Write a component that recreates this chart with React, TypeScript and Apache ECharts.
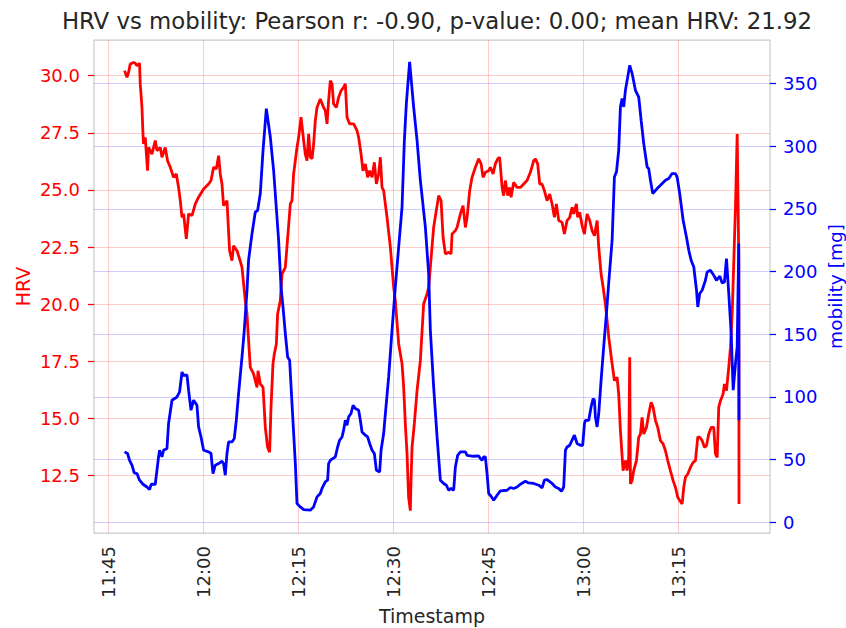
import React, { useEffect, useRef } from "react";
import * as echarts from "echarts";

// Time in minutes since midnight, HRV value
const hrvSeries: [number, number][] = [
  [707.57,30.22],[707.95,29.93],[708.2,30.14],[708.47,30.51],[709.0,30.58],[709.26,30.54],[709.53,30.44],[709.94,30.54],[710.05,29.64],[710.32,28.61],
  [710.48,27.45],[710.57,27.01],[710.84,27.30],[711.2,25.84],[711.36,26.86],[711.9,26.57],[712.42,27.16],[712.69,26.72],[713.21,26.86],[713.48,26.43],
  [714.0,26.86],[714.36,26.28],[714.79,25.99],[715.31,25.55],[715.74,25.70],[716.1,25.11],[716.37,24.53],[716.64,23.80],[716.89,23.95],[717.32,22.86],
  [717.68,23.95],[718.22,23.88],[718.74,24.39],[719.26,24.68],[720.05,25.04],[720.84,25.26],[721.22,25.41],[721.63,25.99],[722.05,25.92],[722.42,26.50],
  [722.68,25.70],[722.95,25.26],[723.2,24.31],[723.74,24.53],[724.15,22.34],[724.53,21.91],[724.78,22.56],[725.32,22.34],[725.73,21.98],[726.11,21.61],
  [726.47,20.59],[726.63,20.16],[726.9,19.57],[727.15,18.41],[727.42,17.24],[727.94,16.95],[728.21,16.66],[728.48,16.36],[728.64,17.09],[729.0,16.51],
  [729.43,16.36],[729.79,14.61],[730.15,13.74],[730.47,13.52],[730.69,15.49],[731.0,17.39],[731.21,17.82],[731.53,18.26],[731.73,19.57],[732.16,20.16],
  [732.42,21.32],[732.95,21.61],[733.74,24.39],[734.0,24.53],[734.26,25.70],[734.79,26.86],[735.05,27.30],[735.43,28.18],[735.84,27.16],[736.1,26.57],
  [736.37,26.28],[736.63,27.45],[736.89,26.43],[737.16,26.36],[737.42,27.01],[737.68,28.03],[737.95,28.61],[738.47,28.98],[738.99,28.61],[739.26,28.47],
  [739.53,27.89],[739.78,28.91],[740.05,29.78],[740.32,29.64],[740.57,28.76],[741.0,28.61],[741.36,29.05],[741.74,29.34],[742.15,29.49],[742.42,29.64],
  [742.69,28.18],[743.1,27.89],[743.73,27.89],[744.27,27.59],[744.52,27.30],[744.9,26.57],[745.21,25.84],[745.58,26.14],[745.94,25.55],[746.26,25.84],
  [746.64,25.55],[747.0,26.21],[747.32,25.26],[747.68,25.70],[747.95,26.43],[748.21,25.11],[748.47,24.97],[749.0,23.80],[749.53,22.49],[750.05,20.74],
  [750.31,20.16],[750.84,18.26],[751.37,17.39],[751.63,16.36],[751.89,14.76],[752.16,13.45],[752.41,11.55],[752.68,10.97],[752.79,12.28],[752.95,13.74],
  [753.31,14.76],[753.74,16.22],[754.26,17.53],[754.78,20.01],[755.32,20.45],[755.57,20.74],[756.36,23.36],[757.15,24.75],[757.53,24.53],[757.85,22.93],
  [758.21,22.20],[758.73,22.27],[759.11,22.20],[759.27,23.07],[759.79,23.22],[760.06,23.36],[760.58,23.95],[761.0,24.31],[761.37,23.36],[761.64,23.80],
  [762.05,24.97],[762.42,25.55],[762.95,25.99],[763.47,26.36],[763.85,26.14],[764.16,25.55],[764.52,25.77],[765.05,25.84],[765.32,25.99],[765.74,25.70],
  [766.1,26.14],[766.47,26.36],[766.78,26.43],[767.16,25.11],[767.41,24.75],[767.68,25.41],[768.05,24.75],[768.36,25.11],[768.58,24.68],[768.99,25.33],
  [769.53,25.11],[770.05,25.11],[770.57,25.26],[771.1,25.41],[771.63,25.77],[772.15,26.28],[772.42,26.36],[772.78,26.14],[773.1,25.26],[773.46,25.26],
  [773.84,24.97],[774.26,24.53],[774.68,24.82],[775.05,24.39],[775.42,23.80],[775.73,24.39],[776.1,23.66],[776.63,23.58],[777.0,23.07],[777.42,23.66],
  [777.84,23.80],[778.21,24.24],[778.47,23.95],[778.89,24.39],[779.1,23.80],[779.41,24.02],[779.79,23.44],[780.16,23.07],[780.58,23.95],[781.0,23.66],
  [781.37,23.22],[781.74,23.00],[782.16,23.66],[782.42,22.49],[782.79,21.32],[783.11,20.74],[783.47,20.01],[784.0,18.55],[784.53,17.39],[784.89,16.66],
  [785.32,16.80],[785.57,16.07],[785.84,14.47],[786.26,12.72],[786.63,13.16],[786.9,12.72],[787.15,13.30],[787.31,17.68],[787.42,12.14],[787.68,12.28],
  [787.94,12.72],[788.37,13.16],[788.73,14.18],[789.0,14.32],[789.26,15.05],[789.52,14.32],[789.95,14.61],[790.31,15.20],[790.69,15.71],[791.0,15.49],
  [791.37,14.91],[791.73,14.61],[792.16,14.03],[792.58,13.89],[792.95,13.59],[793.31,13.16],[793.73,12.72],[794.16,12.28],[794.52,11.99],[794.89,11.55],
  [795.2,11.41],[795.58,11.26],[795.84,11.99],[796.1,12.43],[796.47,12.57],[796.89,12.86],[797.32,13.08],[797.68,13.16],[798.05,14.18],[798.36,14.18],
  [798.74,14.03],[799.1,13.74],[799.42,13.81],[799.78,14.32],[800.16,14.61],[800.57,14.61],[800.84,13.45],[801.11,13.30],[801.36,15.49],[801.63,15.78],
  [802.05,16.07],[802.26,16.51],[802.58,16.22],[802.94,17.24],[803.21,18.11],[803.48,19.57],[803.64,21.03],[804.0,24.24],[804.27,27.45],[804.52,22.05],
  [804.56,11.26],
];

// Time in minutes since midnight, mobility [mg]
const mobilitySeries: [number, number][] = [
  [707.57,56.1],[708.05,54.8],[708.36,49.4],[708.74,45.5],[709.1,39.3],[709.53,38.8],[709.94,33.5],[710.48,30.3],[711.11,28.1],[711.52,26.1],
  [711.79,30.3],[712.42,30.3],[712.69,41.5],[712.94,52.1],[713.1,57.4],[713.48,52.1],[713.73,57.4],[714.27,58.8],[714.52,78.7],[715.06,97.3],
  [715.85,99.9],[716.26,103.9],[716.64,119.8],[716.89,117.2],[717.43,117.2],[717.68,105.3],[718.06,89.3],[718.47,97.3],[719.0,93.3],[719.26,76.0],
  [719.64,68.0],[720.05,57.4],[720.84,56.1],[721.22,54.8],[721.53,38.8],[721.89,45.5],[722.42,46.8],[722.95,48.6],[723.2,46.8],[723.47,37.5],
  [723.74,54.8],[723.99,64.0],[724.53,64.0],[724.89,66.7],[725.21,81.3],[725.57,102.6],[726.11,131.8],[726.47,153.1],[726.9,185.0],[727.15,209.0],
  [727.69,230.2],[728.21,247.4],[728.58,248.8],[729.0,262.1],[729.43,296.6],[729.95,329.9],[730.58,307.2],[731.1,280.7],[731.89,224.9],[732.27,187.6],
  [732.58,171.7],[732.95,150.5],[733.31,131.8],[733.63,129.2],[734.0,94.7],[734.53,46.8],[734.79,14.9],[735.32,12.2],[735.84,10.1],[736.89,9.6],
  [737.41,12.2],[737.95,20.2],[738.47,22.9],[738.74,26.9],[739.26,32.1],[739.63,33.5],[739.78,46.8],[740.05,49.4],[740.84,52.1],[741.2,60.0],
  [741.52,65.4],[741.9,68.0],[742.15,73.4],[742.42,81.3],[742.69,77.3],[742.94,84.0],[743.32,86.7],[743.64,93.3],[744.0,90.7],[744.52,89.3],
  [744.79,81.3],[745.06,72.0],[745.58,69.4],[745.94,68.0],[746.26,62.8],[746.64,57.4],[747.0,54.8],[747.32,41.5],[747.84,40.1],[748.06,57.4],
  [748.47,70.7],[748.74,86.7],[749.26,115.9],[749.79,153.1],[750.31,187.6],[750.84,219.5],[751.37,251.4],[751.74,304.6],[752.05,333.9],[752.57,367.1],
  [753.2,331.2],[753.74,304.6],[754.26,272.7],[755.05,235.5],[755.57,198.3],[755.84,153.1],[756.36,107.9],[756.9,68.0],[757.42,33.5],[757.94,30.9],
  [758.37,29.5],[758.73,25.5],[759.11,26.9],[759.52,25.5],[759.79,44.1],[760.15,53.4],[760.58,56.1],[761.37,56.1],[761.64,53.4],[762.68,52.6],
  [763.47,52.9],[763.73,50.8],[764.0,49.4],[764.26,52.1],[764.52,52.1],[764.79,38.8],[765.05,22.9],[765.42,20.7],[765.84,17.5],[766.37,21.5],
  [766.89,25.0],[767.95,25.5],[768.47,27.7],[768.99,26.9],[769.53,28.1],[770.05,30.3],[770.84,32.7],[771.36,31.3],[772.15,30.9],[772.94,29.5],
  [773.48,27.4],[773.84,33.5],[774.27,34.0],[775.05,30.9],[775.58,28.1],[776.1,26.9],[776.53,24.7],[776.89,28.1],[777.16,57.4],[777.42,60.0],
  [777.84,61.4],[778.21,65.4],[778.58,69.4],[779.0,62.8],[779.52,61.4],[779.89,61.4],[780.16,78.7],[780.32,81.3],[780.84,81.3],[781.21,91.9],
  [781.53,98.6],[781.74,97.3],[781.89,84.0],[782.16,76.0],[782.42,86.7],[782.79,113.2],[783.2,139.8],[783.63,166.4],[783.99,190.6],[784.53,224.9],
  [784.89,275.3],[785.21,279.3],[785.57,296.6],[785.84,331.2],[786.11,337.9],[786.36,331.2],[786.63,344.5],[786.9,352.4],[787.31,364.4],[787.69,357.8],
  [788.21,344.5],[788.73,339.1],[789.11,320.6],[789.52,302.0],[790.06,283.3],[790.31,282.0],[790.58,272.7],[790.94,262.1],[791.63,266.1],[792.16,268.7],
  [792.95,272.7],[793.47,274.1],[794.0,278.1],[794.52,278.1],[794.79,275.3],[795.2,262.1],[795.74,240.8],[796.26,227.5],[796.63,216.9],[797.0,208.9],
  [797.42,203.6],[797.85,185.0],[798.05,171.7],[798.36,182.4],[798.74,185.0],[799.26,193.0],[799.53,199.6],[800.05,200.9],[800.57,197.0],[801.0,193.0],
  [801.53,196.2],[801.9,190.8],[802.26,191.6],[802.58,210.3],[802.94,182.4],[803.32,150.5],[803.64,105.3],[804.0,126.5],[804.27,139.8],[804.52,222.2],
  [804.56,81.3],
];

const timeTicks = [705, 720, 735, 750, 765, 780, 795];
const hrvTicks = [12.5, 15, 17.5, 20, 22.5, 25, 27.5, 30];
const mobilityTicks = [0, 50, 100, 150, 200, 250, 300, 350];

const titleText = "HRV vs mobility: Pearson r: -0.90, p-value: 0.00; mean HRV: 21.92";

const FONT = "DejaVu Sans";
const TEXT = "#262626";

function fmtTime(v: number): string {
  const h = Math.floor(v / 60);
  const m = Math.round(v - h * 60);
  return `${String(h).padStart(2, "0")}:${String(m).padStart(2, "0")}`;
}

export default function App() {
  const ref = useRef<HTMLDivElement>(null);
  useEffect(() => {
    if (!ref.current) return;
    const chart = echarts.init(ref.current, undefined, { renderer: "svg" });
    chart.setOption({
      animation: false,
      backgroundColor: "#ffffff",
      textStyle: { fontFamily: FONT },
      title: {
        text: titleText,
        left: 432,
        top: 4,
        textAlign: "center",
        textStyle: { fontFamily: FONT, fontSize: 22.8, fontWeight: "normal", color: TEXT },
      },
      grid: {
        left: 94,
        top: 40,
        width: 676,
        height: 493,
        show: true,
        borderColor: "#cccccc",
        borderWidth: 1.25,
        backgroundColor: "#ffffff",
        outerBoundsMode: "none",
        containLabel: false,
      },
      xAxis: {
        type: "value",
        min: 702.75,
        max: 809.45,
        axisLine: { show: false },
        axisTick: { show: false, customValues: timeTicks },
        axisLabel: {
          customValues: timeTicks,
          rotate: 90,
          margin: 13,
          fontSize: 18,
          fontFamily: FONT,
          color: TEXT,
          formatter: (v: number) => fmtTime(v),
        },
        splitLine: { show: true, lineStyle: { color: "rgba(255,0,0,0.2)", width: 1 } },
        name: "Timestamp",
        nameLocation: "middle",
        nameGap: 73,
        nameMoveOverlap: false,
        nameTextStyle: { fontFamily: FONT, fontSize: 19, color: TEXT },
      },
      yAxis: [
        {
          type: "value",
          position: "left",
          min: 9.99,
          max: 31.56,
          axisLine: { show: false },
          axisTick: { show: true, length: 6, customValues: hrvTicks, lineStyle: { color: "#ff0000", width: 1.25 } },
          axisLabel: {
            customValues: hrvTicks,
            margin: 14,
            fontSize: 18,
            fontFamily: FONT,
            color: "#ff0000",
            formatter: (v: number) => v.toFixed(1),
          },
          splitLine: { show: true, lineStyle: { color: "rgba(255,0,0,0.2)", width: 1 } },
          name: "HRV",
          nameLocation: "middle",
          nameGap: 62,
          nameMoveOverlap: false,
          nameTextStyle: { fontFamily: FONT, fontSize: 19, color: "#ff0000" },
        },
        {
          type: "value",
          position: "right",
          min: -8.6,
          max: 384.6,
          axisLine: { show: false },
          axisTick: { show: true, length: 6, customValues: mobilityTicks, lineStyle: { color: "#0000ff", width: 1.25 } },
          axisLabel: {
            customValues: mobilityTicks,
            margin: 13,
            fontSize: 18,
            fontFamily: FONT,
            color: "#0000ff",
          },
          splitLine: { show: true, lineStyle: { color: "rgba(0,0,255,0.2)", width: 1 } },
          name: "mobility [mg]",
          nameLocation: "middle",
          nameGap: 56,
          nameMoveOverlap: false,
          nameTextStyle: { fontFamily: FONT, fontSize: 18.5, color: "#0000ff" },
        },
      ],
      series: [
        {
          name: "HRV",
          type: "line",
          yAxisIndex: 0,
          data: hrvSeries,
          showSymbol: false,
          symbol: "none",
          lineStyle: { color: "#ff0000", width: 2.8 },
          itemStyle: { color: "#ff0000" },
          z: 2,
        },
        {
          name: "mobility",
          type: "line",
          yAxisIndex: 1,
          data: mobilitySeries,
          showSymbol: false,
          symbol: "none",
          lineStyle: { color: "#0000ff", width: 2.8 },
          itemStyle: { color: "#0000ff" },
          z: 3,
        },
      ],
    });
    return () => chart.dispose();
  }, []);
  return (
    <div
      ref={ref}
      style={{ position: "absolute", left: 0, top: 0, width: 846, height: 628 }}
    />
  );
}
